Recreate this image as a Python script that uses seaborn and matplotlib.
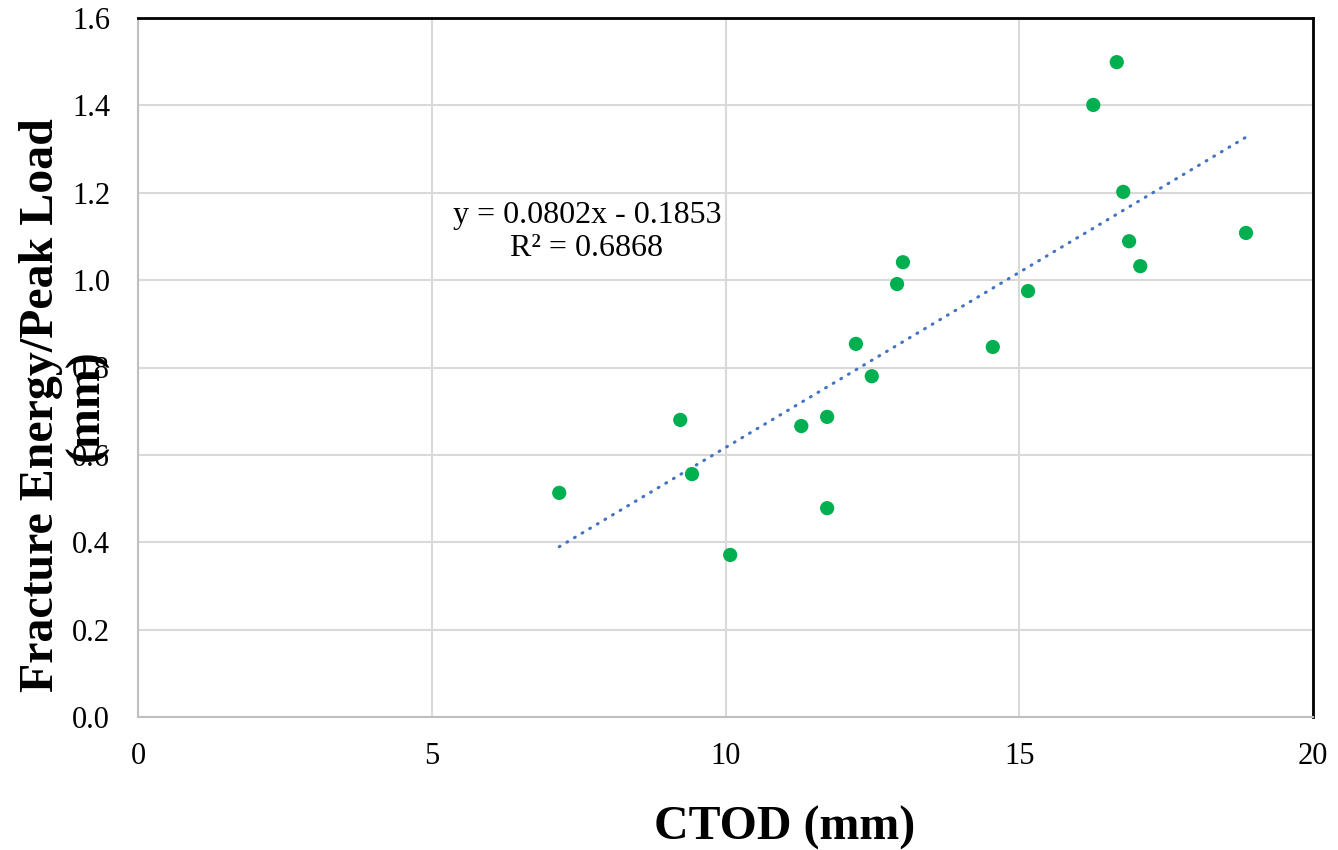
import numpy as np
import pandas as pd
import matplotlib
matplotlib.use("Agg")
import matplotlib.pyplot as plt
import seaborn as sns

# Data
ctod = [7.17, 9.23, 9.43, 10.08, 11.29, 11.73, 11.73, 12.22, 12.49, 12.92,
        13.02, 14.55, 15.15, 16.26, 16.66, 16.77, 16.87, 17.06, 18.86]
energy_ratio = [0.513, 0.680, 0.556, 0.371, 0.666, 0.687, 0.478, 0.854, 0.780, 0.991,
                1.041, 0.847, 0.975, 1.401, 1.499, 1.202, 1.089, 1.032, 1.108]
trend_slope = 0.0802
trend_intercept = -0.1853
r_squared = 0.6868
x_ticks = [0, 5, 10, 15, 20]
y_ticks = [0.0, 0.2, 0.4, 0.6, 0.8, 1.0, 1.2, 1.4, 1.6]

sns.set_theme(style="white")
plt.rcParams['font.family'] = ['Liberation Serif', 'DejaVu Serif']
plt.rcParams['text.color'] = 'black'

fig = plt.figure(figsize=(13.38, 8.5), dpi=100)
ax = fig.add_axes([138/1338, 133/850, 1175/1338, 699/850])

df = pd.DataFrame({"ctod": ctod, "ratio": energy_ratio})
tx = np.array([min(ctod), max(ctod)])
tdf = pd.DataFrame({"x": tx, "y": trend_slope * tx + trend_intercept})

ax.set_axisbelow(True)
ax.grid(True, color="#D9D9D9", linewidth=1.5)
sns.lineplot(data=tdf, x="x", y="y", ax=ax, color="#4472C4", linewidth=2.2,
             linestyle=(0, (0.3, 2.6)), zorder=2)
ax.lines[-1].set_dash_capstyle("round")
sns.scatterplot(data=df, x="ctod", y="ratio", ax=ax, color="#00B050", s=105,
                edgecolor="none", zorder=3)

ax.set_xlim(0, 20)
ax.set_ylim(0, 1.6)
ax.set_xticks(x_ticks)
ax.set_xticklabels([str(v) for v in x_ticks])
ax.set_yticks(y_ticks)
ax.set_yticklabels([f"{v:.1f}" for v in y_ticks])
ax.tick_params(axis="both", length=0, labelsize=22, colors="black")
ax.tick_params(axis="y", pad=20)
ax.tick_params(axis="x", pad=18)
ax.set_xlabel("")
ax.set_ylabel("")

for side in ["left", "bottom"]:
    ax.spines[side].set_color("#BFBFBF")
    ax.spines[side].set_linewidth(1.5)
for side in ["top", "right"]:
    ax.spines[side].set_color("black")
    ax.spines[side].set_linewidth(2.0)

eq_x = (587 - 138) / 1175 * 20
eq_y = (717 - 232) / 699 * 1.6
ax.text(eq_x, eq_y,
        f"y = {trend_slope:.4f}x - {abs(trend_intercept):.4f}\nR² = {r_squared:.4f}",
        ha="center", va="center", fontsize=23, color="black", linespacing=1.15)

fig.text(785/1338, 1 - 828/850, "CTOD (mm)", ha="center", va="center",
         fontsize=34.5, fontweight="bold", color="black")
fig.text(64/1338, 1 - 405/850, "Fracture Energy/Peak Load\n(mm)", ha="center", va="center",
         rotation=90, fontsize=34.5, fontweight="bold", linespacing=1.05,
         multialignment="center", color="black")

fig.savefig("out.png", dpi=100)
